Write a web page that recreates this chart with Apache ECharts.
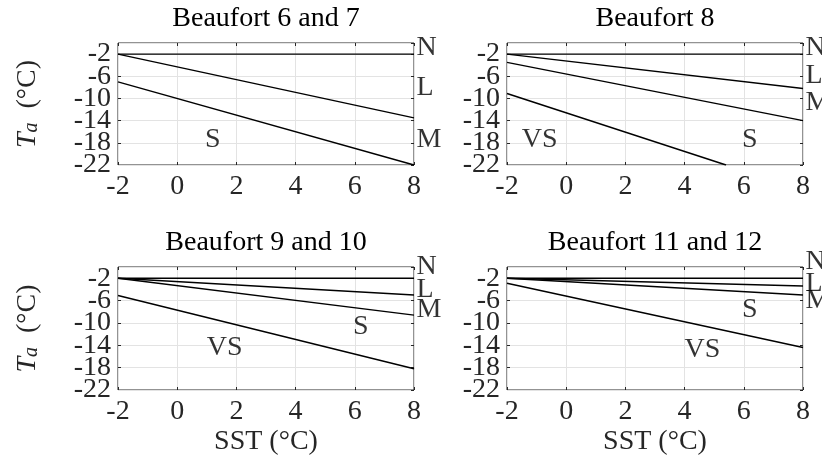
<!DOCTYPE html>
<html>
<head>
<meta charset="utf-8">
<script src="https://cdn.jsdelivr.net/npm/echarts@6/dist/echarts.min.js"></script>
<style>
	html, body { margin: 0; padding: 0; background: #fff; }
	#main { width: 822px; height: 463px; }
</style>
</head>
<body>
<div id="main"></div>
<script>
	// panel titles
	const panelTitles = ['Beaufort 6 and 7', 'Beaufort 8', 'Beaufort 9 and 10', 'Beaufort 11 and 12']

	// boundary lines, end points as [SST, Ta]
	const bf67Lines = [
		[[-2, -2], [8, -2]],
		[[-2, -2], [8, -13.5]],
		[[-2, -7], [8, -22]]
	]
	const bf8Lines = [
		[[-2, -2], [8, -2]],
		[[-2, -2], [8, -8.2]],
		[[-2, -3.5], [8, -14]],
		[[-2, -9.1], [5.4, -22]]
	]
	const bf910Lines = [
		[[-2, -2], [8, -2]],
		[[-2, -2], [8, -5]],
		[[-2, -2], [8, -8.6]],
		[[-2, -5.1], [8, -18.2]]
	]
	const bf1112Lines = [
		[[-2, -2], [8, -2]],
		[[-2, -2], [8, -3.4]],
		[[-2, -2], [8, -5]],
		[[-2, -2.9], [8, -14.4]]
	]

	// class letters at the right edge (x = 8), [text, Ta]
	const bf67Side = [['N', -0.9], ['L', -8.1], ['M', -17.5]]
	const bf8Side = [['N', -0.9], ['L', -5.8], ['M', -10.8]]
	const bf910Side = [['N', 0], ['L', -4.1], ['M', -7.6]]
	const bf1112Side = [['N', 0.9], ['L', -2.9], ['M', -6.1]]

	// class letters inside the plots, [text, SST, Ta]
	const bf67Zones = [['S', 1.2, -17.5]]
	const bf8Zones = [['VS', -0.9, -17.5], ['S', 6.2, -17.5]]
	const bf910Zones = [['S', 6.2, -10.7], ['VS', 1.6, -14.5]]
	const bf1112Zones = [['S', 6.2, -7.7], ['VS', 4.6, -14.7]]

	const xTicks = { min: -2, max: 8, interval: 2 }
	const yTicks = { min: -22, max: 0, interval: 4 }

	const panels = [
		{ lines: bf67Lines, side: bf67Side, zones: bf67Zones },
		{ lines: bf8Lines, side: bf8Side, zones: bf8Zones },
		{ lines: bf910Lines, side: bf910Side, zones: bf910Zones },
		{ lines: bf1112Lines, side: bf1112Side, zones: bf1112Zones }
	]

	const FONT = 'Liberation Serif'
	const TXT = '#262626'
	const FS = 28

	const grids = [
		{ left: 118, top: 43, width: 296, height: 122 },
		{ left: 507, top: 43, width: 296, height: 122 },
		{ left: 118, top: 267, width: 296, height: 123 },
		{ left: 507, top: 267, width: 296, height: 123 }
	]

	let xAxis = [], yAxis = [], series = []
	panels.forEach((p, i) => {
		let bottomRow = i >= 2
		let leftCol = i % 2 === 0
		// bottom x axis
		xAxis.push({
			gridIndex: i, type: 'value', position: 'bottom', min: xTicks.min, max: xTicks.max, interval: xTicks.interval,
			axisLine: { show: false, onZero: false },
			axisTick: { show: true, inside: true, length: 3, lineStyle: { color: TXT } },
			axisLabel: { fontFamily: FONT, fontSize: FS, color: TXT, margin: 8, showMinLabel: true, showMaxLabel: true },
			splitLine: { show: true, lineStyle: { color: '#e3e3e3', width: 1 } },
			name: bottomRow ? 'SST (°C)' : '',
			nameLocation: 'middle', nameGap: 38,
			nameTextStyle: { fontFamily: FONT, fontSize: FS, color: TXT }
		})
		// top x axis: mirrored ticks and the title
		xAxis.push({
			gridIndex: i, type: 'value', position: 'top', min: xTicks.min, max: xTicks.max, interval: xTicks.interval,
			axisLine: { show: false, onZero: false },
			axisTick: { show: true, inside: true, length: 3, lineStyle: { color: TXT } },
			axisLabel: { show: false },
			splitLine: { show: false },
			name: panelTitles[i],
			nameLocation: 'middle', nameGap: 10,
			nameTextStyle: { fontFamily: FONT, fontSize: FS, color: '#000' }
		})
		// left y axis (all labels but the lowest one)
		yAxis.push({
			gridIndex: i, type: 'value', position: 'left', min: yTicks.min, max: yTicks.max, interval: yTicks.interval,
			axisLine: { show: false, onZero: false },
			axisTick: { show: true, inside: true, length: 3, lineStyle: { color: TXT } },
			axisLabel: { fontFamily: FONT, fontSize: FS, color: TXT, margin: 7, showMinLabel: false, showMaxLabel: false },
			splitLine: { show: true, lineStyle: { color: '#e3e3e3', width: 1 } },
			name: leftCol ? '{i|T}{s|a}{u|  (°C)}' : '',
			nameLocation: 'middle', nameGap: 76, nameRotate: 90,
			nameTextStyle: {
				fontFamily: FONT, fontSize: FS, color: TXT,
				rich: {
					i: { fontFamily: FONT, fontSize: FS, fontStyle: 'italic', color: TXT, lineHeight: 28, verticalAlign: 'bottom' },
					s: { fontFamily: FONT, fontSize: 20, fontStyle: 'italic', color: TXT, lineHeight: 42, verticalAlign: 'bottom' },
					u: { fontFamily: FONT, fontSize: FS, color: TXT, lineHeight: 28, verticalAlign: 'bottom' }
				}
			}
		})
		// right y axis: mirrored ticks
		yAxis.push({
			gridIndex: i, type: 'value', position: 'right', min: yTicks.min, max: yTicks.max, interval: yTicks.interval,
			axisLine: { show: false, onZero: false },
			axisTick: { show: true, inside: true, length: 3, lineStyle: { color: TXT } },
			axisLabel: { show: false },
			splitLine: { show: false }
		})
		// left y axis carrying only the lowest label (echarts drops it as overlapping otherwise)
		yAxis.push({
			gridIndex: i, type: 'value', position: 'left', min: yTicks.min, max: yTicks.max, interval: yTicks.interval,
			axisLine: { show: false, onZero: false },
			axisTick: { show: false },
			axisLabel: {
				fontFamily: FONT, fontSize: FS, color: TXT, margin: 7, showMinLabel: true, showMaxLabel: false,
				formatter: (v) => (v === yTicks.min ? String(v) : '')
			},
			splitLine: { show: false }
		})

		p.lines.forEach((ln) => {
			series.push({
				type: 'line', xAxisIndex: 2 * i, yAxisIndex: 3 * i,
				data: ln, showSymbol: false, symbol: 'none',
				lineStyle: { color: '#000', width: 1.4 },
				silent: true
			})
		})
		series.push({
			type: 'scatter', xAxisIndex: 2 * i, yAxisIndex: 3 * i, clip: false,
			symbolSize: 1, itemStyle: { color: 'transparent' }, silent: true,
			data: p.side.map((d) => ({ name: d[0], value: [xTicks.max, d[1]] })),
			label: { show: true, position: 'right', distance: 2, formatter: '{b}', fontFamily: FONT, fontSize: FS, color: '#000' }
		})
		series.push({
			type: 'scatter', xAxisIndex: 2 * i, yAxisIndex: 3 * i, clip: false,
			symbolSize: 1, itemStyle: { color: 'transparent' }, silent: true,
			data: p.zones.map((d) => ({ name: d[0], value: [d[1], d[2]] })),
			label: { show: true, position: 'inside', formatter: '{b}', fontFamily: FONT, fontSize: FS, color: '#000' }
		})
	})

	let option = {
		animation: false,
		backgroundColor: '#fff',
		grid: grids.map((g) => Object.assign({ show: true, borderColor: '#262626', borderWidth: 1, backgroundColor: 'transparent' }, g)),
		xAxis: xAxis,
		yAxis: yAxis,
		series: series
	}

	let myChart = echarts.init(document.getElementById('main'))
	myChart.setOption(option, true)
</script>
</body>
</html>
